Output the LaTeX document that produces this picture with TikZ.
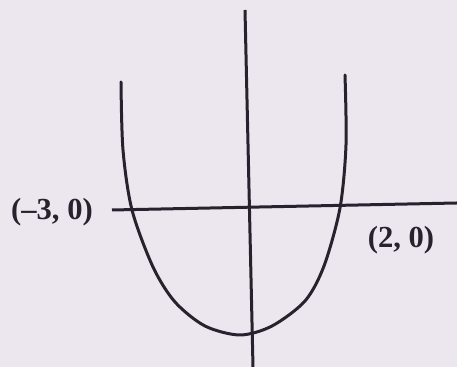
\documentclass[tikz,border=0pt]{standalone}
\usepackage{fontspec}
\setmainfont{Liberation Serif}
\definecolor{paper}{RGB}{236,231,238}
\definecolor{ink}{RGB}{40,34,46}
\begin{document}
\begin{tikzpicture}[x=0.5pt,y=-0.5pt,
  curve/.style={draw=ink,line width=1.5pt,line cap=round},
  lbl/.style={text=ink,font=\fontsize{15.3}{18}\selectfont\bfseries,inner sep=0pt}]
\fill[paper] (0,0) rectangle (457,367);
\useasboundingbox (0,0) rectangle (457,367);
% axes
\coordinate (xl) at (112,210);
\coordinate (xr) at (457,203);
\coordinate (yt) at (245,10);
\coordinate (yb) at (253,367);
\draw[curve,line cap=butt] (xl) -- (xr);
\draw[curve,line cap=butt] (yt) -- (yb);
% parabola
\draw[curve] plot[smooth,tension=0.5] coordinates {
  (121,82) (123,150) (132,210) (153,267) (175,302) (205,326)
  (240,335) (272,326) (305,301) (324,266) (340,208) (346,145) (345,75)};
% labels
\node[lbl] (lm3) at (52,212) {(\textendash3, 0)};
\node[lbl] (l2) at (401,240) {(2, 0)};
\end{tikzpicture}
\end{document}
